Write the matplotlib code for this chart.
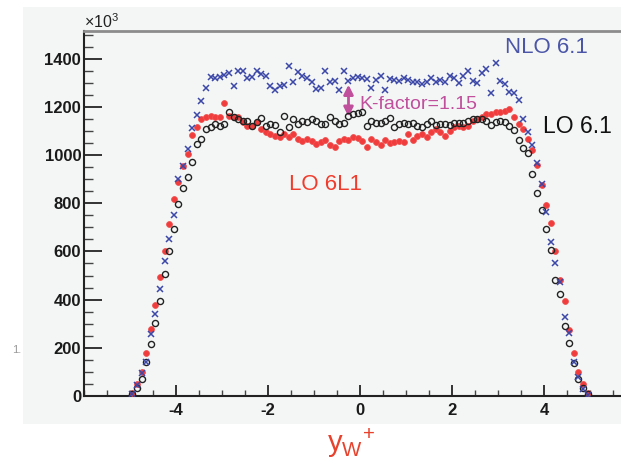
import numpy as np
import matplotlib
matplotlib.use('Agg')
import matplotlib.pyplot as plt
from matplotlib.patches import Rectangle
from matplotlib.ticker import MultipleLocator, FixedLocator

plt.rcParams['font.family'] = ['Liberation Sans', 'DejaVu Sans']
plt.rcParams['mathtext.fontset'] = 'custom'
plt.rcParams['mathtext.rm'] = 'Liberation Sans'
plt.rcParams['mathtext.it'] = 'Liberation Sans'
plt.rcParams['axes.unicode_minus'] = False

# bin centres of the rapidity histogram (-5 .. 5, 100 bins)
y_w = np.round(np.arange(-4.95, 5.0, 0.1), 2)

# LO 6L1 (red), x10^3 events
lo_6l1 = [11, 50, 101, 179, 280, 377, 494, 602, 712, 819,
          888, 955, 1005, 1085, 1116, 1150, 1157, 1162, 1157, 1157,
          1215, 1162, 1160, 1157, 1136, 1119, 1122, 1136, 1109, 1095,
          1088, 1081, 1074, 1088, 1074, 1088, 1067, 1060, 1067, 1060,
          1047, 1054, 1062, 1040, 1033, 1058, 1067, 1062, 1074, 1070,
          1058, 1033, 1067, 1054, 1040, 1062, 1050, 1054, 1058, 1054,
          1088, 1062, 1081, 1088, 1074, 1095, 1109, 1095, 1081, 1100,
          1116, 1119, 1116, 1122, 1143, 1150, 1157, 1170, 1172, 1178,
          1180, 1185, 1190, 1160, 1130, 1109, 1067, 1022, 960, 874,
          791, 718, 602, 483, 395, 276, 179, 101, 50, 14]

# LO 6.1 (black open circles)
lo_61 = [8, 32, 69, 140, 215, 301, 393, 505, 602, 695,
         795, 864, 908, 970, 1044, 1067, 1109, 1116, 1129, 1120,
         1129, 1178, 1160, 1150, 1143, 1143, 1122, 1136, 1153, 1122,
         1129, 1125, 1095, 1164, 1116, 1150, 1129, 1143, 1136, 1150,
         1140, 1129, 1130, 1160, 1140, 1130, 1135, 1164, 1170, 1175,
         1178, 1122, 1143, 1135, 1135, 1140, 1153, 1116, 1129, 1132,
         1128, 1135, 1119, 1118, 1129, 1143, 1125, 1127, 1127, 1125,
         1135, 1133, 1135, 1140, 1150, 1148, 1150, 1143, 1125, 1136,
         1140, 1136, 1122, 1104, 1063, 1030, 1008, 922, 844, 773,
         695, 605, 481, 425, 290, 218, 135, 69, 32, 8]

# NLO 6.1 (blue crosses)
nlo_61 = [10, 45, 95, 142, 257, 340, 443, 560, 650, 753,
          902, 953, 1026, 1113, 1168, 1226, 1277, 1323, 1320, 1326,
          1334, 1340, 1288, 1350, 1350, 1320, 1325, 1350, 1335, 1330,
          1288, 1270, 1288, 1290, 1371, 1302, 1343, 1330, 1318, 1302,
          1274, 1280, 1350, 1302, 1308, 1270, 1350, 1309, 1320, 1325,
          1320, 1315, 1279, 1310, 1330, 1270, 1315, 1310, 1308, 1320,
          1312, 1305, 1302, 1295, 1305, 1320, 1302, 1310, 1302, 1330,
          1320, 1298, 1330, 1350, 1309, 1300, 1340, 1357, 1256, 1381,
          1309, 1295, 1261, 1258, 1230, 1148, 1095, 1040, 969, 878,
          765, 640, 550, 473, 329, 260, 142, 80, 28, 6]

x_ticks = [-4, -2, 0, 2, 4]

W, H = 621, 462
fig = plt.figure(figsize=(W / 100, H / 100), dpi=100)
fig.patches.append(Rectangle((23 / W, 1 - 424 / H), (W - 23) / W, (424 - 7) / H,
                             transform=fig.transFigure, facecolor='#f4f6f6',
                             edgecolor='none', zorder=-10))

ax = fig.add_axes([84 / W, 1 - 396 / H, 552 / W, 365 / H])
ax.set_facecolor('#f4f6f6')

ax.plot(y_w, lo_6l1, 'o', color='#f03c3c', ms=4.2, mec='#f25050', mew=0.6, zorder=3)
ax.plot(y_w, lo_61, 'o', mfc='none', mec='#222222', ms=4.4, mew=1.0, zorder=4)
ax.plot(y_w, nlo_61, 'x', color='#3c48a8', ms=4.0, mew=1.1, zorder=5)

ax.set_xlim(-6, 6)
ax.set_ylim(0, 1515)
ax.xaxis.set_major_locator(FixedLocator(x_ticks))
ax.xaxis.set_minor_locator(MultipleLocator(0.5))
ax.yaxis.set_major_locator(MultipleLocator(200))
ax.yaxis.set_minor_locator(MultipleLocator(50))
ax.tick_params(axis='y', which='major', direction='in', length=13, width=1.4,
               labelsize=12, pad=2, color='#333333')
ax.tick_params(axis='y', which='minor', direction='in', length=6.5, width=1.0,
               color='#444444')
ax.tick_params(axis='x', which='major', direction='in', length=8, width=1.4,
               labelsize=12, pad=5, color='#333333')
ax.tick_params(axis='x', which='minor', direction='in', length=4, width=1.0,
               color='#444444')
for lab in ax.get_xticklabels() + ax.get_yticklabels():
    lab.set_fontweight('bold')
    lab.set_color('#1a1a1a')

ax.spines['right'].set_visible(False)
ax.spines['top'].set_color('#8c8c8c')
ax.spines['top'].set_linewidth(2)
ax.spines['left'].set_color('#222222')
ax.spines['left'].set_linewidth(1.5)
ax.spines['bottom'].set_color('#222222')
ax.spines['bottom'].set_linewidth(1.5)

ax.text(3.16, 1446, 'NLO 6.1', color='#4b56a8', fontsize=16, va='center')
ax.text(3.98, 1118, 'LO 6.1', color='#111111', fontsize=16.5, va='center')
ax.text(-1.55, 876, 'LO 6L1', color='#f03c2c', fontsize=16, va='center')
ax.text(-0.01, 1209, 'K-factor=1.15', color='#c04f9c', fontsize=14, va='center')
ax.annotate('', xy=(-0.25, 1292), xytext=(-0.25, 1159),
            arrowprops=dict(arrowstyle='<|-|>', color='#c04f9c', lw=2,
                            mutation_scale=14, shrinkA=0, shrinkB=0))

fig.text(84 / W, 1 - 22 / H, r'$\times10^{3}$', fontsize=11.5, color='#222222',
         va='center', ha='left')
fig.text(12 / W, 1 - 350 / H, '1.', fontsize=8, color='#999999', va='center')
fig.text(327 / W, 1 - 452 / H, r'$\mathrm{y_W{}^{+}}$', fontsize=21,
         color='#e8412c', va='baseline', ha='left')

fig.savefig('out.png', dpi=100)
